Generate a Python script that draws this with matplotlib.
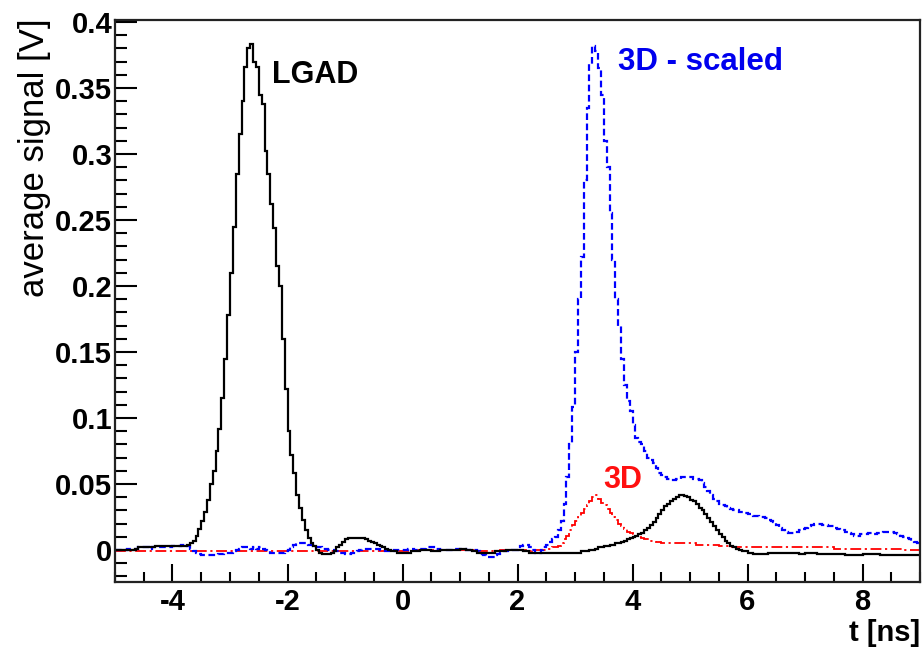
import numpy as np
import matplotlib
matplotlib.use("Agg")
import matplotlib.pyplot as plt
from matplotlib.ticker import MultipleLocator

plt.rcParams['font.family'] = ['Liberation Sans', 'DejaVu Sans']
plt.rcParams['axes.unicode_minus'] = False

# histogram binning: 0.05 ns bins from -5 to 9 ns (one row = 1 ns = 20 bins)
t_min, t_max, bin_w = -5.0, 9.0, 0.05

lgad = [
    # -5 .. -4
    0.000, 0.000, 0.000, 0.000, 0.000, 0.000, 0.000, 0.001, 0.002, 0.002,
    0.002, 0.002, 0.002, 0.002, 0.003, 0.003, 0.003, 0.003, 0.003, 0.003,
    # -4 .. -3
    0.003, 0.003, 0.003, 0.003, 0.003, 0.004, 0.005, 0.007, 0.011, 0.016,
    0.022, 0.029, 0.038, 0.050, 0.060, 0.075, 0.092, 0.115, 0.145, 0.178,
    # -3 .. -2
    0.210, 0.245, 0.285, 0.315, 0.340, 0.366, 0.380, 0.383, 0.370, 0.366,
    0.345, 0.338, 0.302, 0.285, 0.262, 0.244, 0.215, 0.200, 0.160, 0.122,
    # -2 .. -1
    0.090, 0.072, 0.058, 0.042, 0.032, 0.023, 0.015, 0.009, 0.005, 0.003,
    0.000, -0.002, -0.003, -0.003, -0.003, -0.002, -0.001, 0.002, 0.004, 0.006,
    # -1 .. 0
    0.008, 0.009, 0.009, 0.009, 0.009, 0.009, 0.009, 0.008, 0.007, 0.006,
    0.005, 0.004, 0.003, 0.002, 0.001, 0.000, -0.001, -0.001, -0.002, -0.002,
    # 0 .. 1
    -0.002, -0.002, -0.002, -0.001, -0.001, -0.001, 0.000, 0.000, 0.000, 0.000,
    -0.001, -0.001, -0.001, 0.000, 0.000, 0.000, 0.000, 0.000, 0.000, 0.000,
    # 1 .. 2
    0.001, 0.001, 0.000, 0.000, -0.001, -0.001, -0.002, -0.002, -0.002, -0.002,
    -0.002, -0.002, -0.001, -0.001, -0.001, -0.001, 0.000, 0.000, 0.000, 0.000,
    # 2 .. 3
    0.000, 0.000, -0.001, -0.001, -0.002, -0.002, -0.002, -0.002, -0.002, -0.002,
    -0.002, -0.002, -0.002, -0.002, -0.002, -0.002, -0.002, -0.002, -0.002, -0.002,
    # 3 .. 4
    -0.002, -0.002, -0.001, -0.001, -0.001, 0.000, 0.000, 0.001, 0.002, 0.002,
    0.003, 0.003, 0.004, 0.004, 0.005, 0.005, 0.006, 0.007, 0.008, 0.009,
    # 4 .. 5
    0.010, 0.011, 0.012, 0.013, 0.015, 0.017, 0.019, 0.021, 0.024, 0.027,
    0.030, 0.033, 0.035, 0.037, 0.039, 0.040, 0.042, 0.042, 0.041, 0.040,
    # 5 .. 6
    0.038, 0.037, 0.035, 0.032, 0.030, 0.027, 0.024, 0.021, 0.018, 0.015,
    0.012, 0.010, 0.007, 0.005, 0.003, 0.002, 0.001, 0.000, -0.001, -0.001,
    # 6 .. 7
    -0.002, -0.002, -0.003, -0.003, -0.003, -0.003, -0.003, -0.002, -0.002, -0.002,
    -0.002, -0.002, -0.002, -0.002, -0.002, -0.002, -0.002, -0.002, -0.003, -0.003,
    # 7 .. 8
    -0.002, -0.002, -0.002, -0.002, -0.003, -0.003, -0.003, -0.003, -0.003, -0.003,
    -0.003, -0.003, -0.003, -0.003, -0.004, -0.004, -0.004, -0.004, -0.004, -0.004,
    # 8 .. 9
    -0.003, -0.003, -0.003, -0.003, -0.003, -0.003, -0.004, -0.004, -0.004, -0.004,
    -0.004, -0.004, -0.004, -0.004, -0.004, -0.004, -0.004, -0.004, -0.004, -0.004,
]

sig_3d = [
    # -5 .. -4
    -0.001, -0.001, -0.001, -0.001, -0.001, -0.001, -0.001, -0.001, -0.001, -0.001,
    -0.001, -0.001, -0.001, -0.001, -0.001, -0.001, -0.001, -0.001, -0.001, -0.001,
    # -4 .. -3
    -0.001, -0.001, -0.001, -0.001, -0.001, -0.001, -0.001, -0.001, -0.001, -0.001,
    -0.001, -0.001, -0.001, -0.001, -0.001, -0.001, -0.001, -0.001, -0.001, -0.001,
    # -3 .. -2
    -0.001, -0.001, -0.001, -0.001, -0.001, -0.001, -0.001, -0.001, -0.001, -0.001,
    -0.001, -0.001, -0.001, -0.001, -0.001, -0.001, -0.001, -0.001, -0.001, -0.001,
    # -2 .. -1
    -0.001, -0.001, -0.001, -0.001, -0.001, -0.001, -0.001, -0.001, -0.001, -0.001,
    -0.001, -0.001, -0.001, -0.001, -0.001, -0.001, -0.001, -0.001, -0.001, -0.001,
    # -1 .. 0
    -0.001, -0.001, -0.001, -0.001, -0.001, -0.001, -0.001, -0.001, -0.001, -0.001,
    -0.001, -0.001, -0.001, -0.001, -0.001, -0.001, -0.001, -0.001, -0.001, -0.001,
    # 0 .. 1
    -0.001, -0.001, -0.001, -0.001, 0.000, 0.000, 0.000, 0.000, 0.000, 0.000,
    0.000, 0.000, 0.000, 0.000, 0.000, 0.000, 0.000, 0.000, 0.000, 0.000,
    # 1 .. 2
    0.000, 0.000, 0.000, 0.000, 0.000, 0.000, -0.001, -0.001, -0.001, -0.001,
    -0.001, -0.001, -0.001, -0.001, 0.000, 0.000, 0.000, 0.000, 0.000, 0.000,
    # 2 .. 3
    0.000, 0.000, 0.000, -0.001, -0.001, 0.000, 0.000, 0.000, 0.000, 0.000,
    0.001, 0.001, 0.002, 0.002, 0.003, 0.005, 0.008, 0.011, 0.015, 0.019,
    # 3 .. 4
    0.022, 0.025, 0.028, 0.031, 0.034, 0.037, 0.040, 0.042, 0.039, 0.036,
    0.034, 0.031, 0.028, 0.025, 0.023, 0.020, 0.018, 0.016, 0.014, 0.013,
    # 4 .. 5
    0.012, 0.011, 0.010, 0.009, 0.008, 0.008, 0.007, 0.007, 0.006, 0.006,
    0.005, 0.005, 0.005, 0.005, 0.005, 0.005, 0.005, 0.005, 0.005, 0.005,
    # 5 .. 6
    0.005, 0.005, 0.004, 0.004, 0.004, 0.004, 0.004, 0.004, 0.004, 0.004,
    0.003, 0.003, 0.003, 0.003, 0.002, 0.002, 0.002, 0.002, 0.002, 0.002,
    # 6 .. 7
    0.002, 0.002, 0.002, 0.002, 0.002, 0.002, 0.002, 0.002, 0.002, 0.002,
    0.002, 0.002, 0.002, 0.002, 0.002, 0.002, 0.002, 0.002, 0.002, 0.002,
    # 7 .. 8
    0.002, 0.002, 0.002, 0.002, 0.002, 0.002, 0.002, 0.002, 0.002, 0.002,
    0.001, 0.001, 0.001, 0.001, 0.001, 0.001, 0.001, 0.001, 0.001, 0.001,
    # 8 .. 9
    0.001, 0.001, 0.001, 0.001, 0.001, 0.001, 0.001, 0.001, 0.001, 0.001,
    0.001, 0.001, 0.001, 0.001, 0.000, 0.000, 0.000, 0.000, 0.000, 0.000,
]

sig_3d_scaled = [
    # -5 .. -4
    0.000, 0.000, 0.000, 0.000, 0.001, 0.001, 0.001, 0.001, 0.002, 0.002,
    0.002, 0.002, 0.001, 0.002, 0.002, 0.002, 0.002, 0.002, 0.002, 0.002,
    # -4 .. -3
    0.003, 0.003, 0.003, 0.004, 0.004, 0.003, 0.001, -0.001, -0.002, -0.003,
    -0.004, -0.004, -0.004, -0.004, -0.004, -0.004, -0.003, -0.003, -0.002, -0.002,
    # -3 .. -2
    -0.002, -0.001, 0.000, 0.001, 0.002, 0.002, 0.002, 0.001, 0.002, 0.001,
    0.002, 0.001, 0.000, -0.001, -0.002, -0.002, -0.002, -0.002, -0.002, -0.001,
    # -2 .. -1
    0.000, 0.002, 0.004, 0.005, 0.005, 0.005, 0.005, 0.004, 0.004, 0.003,
    0.002, 0.002, 0.001, 0.001, 0.000, 0.000, -0.001, -0.001, -0.002, -0.002,
    # -1 .. 0
    -0.003, -0.003, -0.002, -0.002, -0.001, 0.000, 0.001, 0.001, 0.001, 0.001,
    0.001, 0.001, 0.000, 0.000, -0.001, -0.001, -0.001, 0.000, 0.000, 0.000,
    # 0 .. 1
    0.000, 0.000, 0.001, 0.001, 0.000, 0.000, 0.001, 0.001, 0.002, 0.002,
    0.002, 0.001, 0.001, 0.000, 0.000, 0.000, 0.000, 0.000, 0.001, 0.001,
    # 1 .. 2
    0.001, 0.001, 0.000, 0.000, 0.000, 0.000, -0.001, -0.003, -0.004, -0.005,
    -0.005, -0.005, -0.004, -0.003, -0.002, -0.001, -0.001, -0.001, 0.000, 0.000,
    # 2 .. 3
    0.001, 0.003, 0.004, 0.004, 0.002, 0.000, -0.002, -0.002, 0.000, 0.002,
    0.004, 0.006, 0.008, 0.010, 0.015, 0.022, 0.035, 0.055, 0.080, 0.108,
    # 3 .. 4
    0.150, 0.190, 0.222, 0.280, 0.335, 0.368, 0.382, 0.378, 0.365, 0.345,
    0.310, 0.290, 0.255, 0.220, 0.190, 0.170, 0.145, 0.125, 0.113, 0.105,
    # 4 .. 5
    0.095, 0.085, 0.082, 0.080, 0.075, 0.070, 0.068, 0.066, 0.062, 0.058,
    0.057, 0.055, 0.054, 0.053, 0.053, 0.054, 0.054, 0.055, 0.055, 0.055,
    # 5 .. 6
    0.055, 0.054, 0.054, 0.053, 0.051, 0.048, 0.045, 0.042, 0.039, 0.037,
    0.035, 0.034, 0.033, 0.032, 0.031, 0.030, 0.030, 0.029, 0.029, 0.028,
    # 6 .. 7
    0.027, 0.027, 0.026, 0.026, 0.025, 0.025, 0.024, 0.023, 0.022, 0.021,
    0.019, 0.017, 0.015, 0.014, 0.013, 0.013, 0.014, 0.014, 0.015, 0.016,
    # 7 .. 8
    0.017, 0.018, 0.019, 0.020, 0.020, 0.020, 0.019, 0.019, 0.018, 0.018,
    0.017, 0.016, 0.015, 0.015, 0.014, 0.013, 0.012, 0.011, 0.011, 0.012,
    # 8 .. 9
    0.012, 0.012, 0.013, 0.013, 0.012, 0.013, 0.013, 0.014, 0.014, 0.014,
    0.014, 0.013, 0.012, 0.011, 0.010, 0.009, 0.008, 0.007, 0.006, 0.005,
]

labels = ["LGAD", "3D - scaled", "3D"]
x_label = "t [ns]"
y_label = "average signal [V]"

n_bins = int(round((t_max - t_min) / bin_w))
edges = np.linspace(t_min, t_max, n_bins + 1)

fig = plt.figure(figsize=(9.23, 6.56), dpi=100)
ax = fig.add_axes([115 / 923, 74 / 656, 805 / 923, 562 / 656])

ax.stairs(sig_3d, edges, baseline=None, color='#ff0000', lw=1.3,
          linestyle=(0, (6, 2, 1.2, 2)))
ax.stairs(sig_3d_scaled, edges, baseline=None, color='#0000ff', lw=1.6,
          linestyle=(0, (3, 1.6)))
ax.stairs(lgad, edges, baseline=None, color='black', lw=1.6)

ax.set_xlim(t_min, t_max)
ax.set_ylim(-0.0242, 0.4015)

ax.xaxis.set_major_locator(MultipleLocator(2))
ax.xaxis.set_minor_locator(MultipleLocator(0.5))
ax.yaxis.set_major_locator(MultipleLocator(0.05))
ax.yaxis.set_minor_locator(MultipleLocator(0.01))

ax.tick_params(axis='x', which='major', direction='in', length=13, width=1.5,
               labelsize=21, pad=4.5, top=False)
ax.tick_params(axis='x', which='minor', direction='in', length=7, width=1.5, top=False)
ax.tick_params(axis='y', which='major', direction='in', length=16, width=1.5,
               labelsize=21, pad=2, right=False)
ax.tick_params(axis='y', which='minor', direction='in', length=8.5, width=1.5, right=False)
for lab in ax.get_xticklabels() + ax.get_yticklabels():
    lab.set_fontweight('bold')

def fmt(v, pos):
    s = f"{v:.2f}".rstrip('0').rstrip('.')
    if s == "-0":
        s = "0"
    return s
ax.yaxis.set_major_formatter(plt.FuncFormatter(fmt))
ax.xaxis.set_major_formatter(plt.FuncFormatter(lambda v, p: f"{v:.0f}"))

for sp in ax.spines.values():
    sp.set_linewidth(1.6)
    sp.set_color('#222222')

ax.set_xlabel(x_label, fontsize=21, fontweight='bold', loc='right')
ax.xaxis.set_label_coords(1.0, -0.066)
ax.set_ylabel(y_label, fontsize=25, loc='top')
ax.yaxis.set_label_coords(-0.080, 1.003)

ax.text(-2.27, 0.354, labels[0], color='black', fontsize=22, fontweight='bold',
        ha='left', va='baseline')
ax.text(3.75, 0.364, labels[1], color='#0000ee', fontsize=22.5, fontweight='bold',
        ha='left', va='baseline')
ax.text(3.49, 0.047, labels[2], color='#ff1010', fontsize=22, fontweight='bold',
        ha='left', va='baseline')

fig.savefig("out.png", dpi=100)
